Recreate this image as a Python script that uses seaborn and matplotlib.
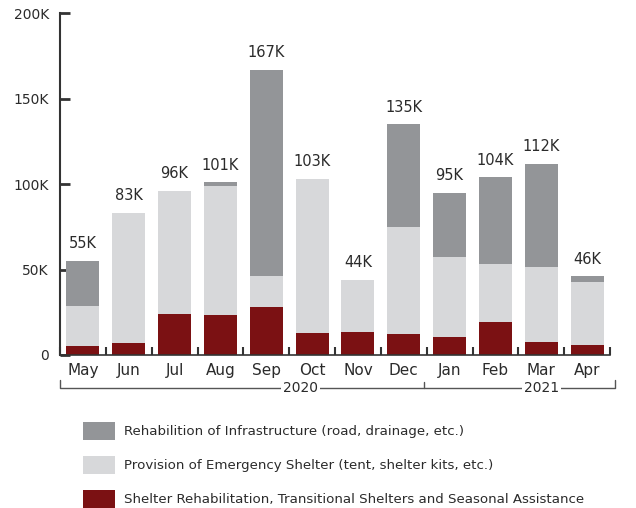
import matplotlib
matplotlib.use("Agg")
import matplotlib.pyplot as plt
import matplotlib.transforms as mtransforms
from matplotlib.patches import Rectangle
import seaborn as sns
import pandas as pd

# data (thousands)
months = ['May', 'Jun', 'Jul', 'Aug', 'Sep', 'Oct', 'Nov', 'Dec', 'Jan', 'Feb', 'Mar', 'Apr']
shelter_rehab = [5.5, 7, 24, 23.5, 28, 13, 13.5, 12.3, 10.5, 19.3, 7.6, 6]
emergency = [23.2, 76, 72, 75.5, 18, 90, 30.5, 62.7, 47, 34, 43.9, 37]
infrastructure = [26.3, 0, 0, 2, 121, 0, 0, 60, 37.5, 50.7, 60.5, 3]
total_labels = ['55K', '83K', '96K', '101K', '167K', '103K', '44K', '135K', '95K', '104K', '112K', '46K']
years = ['2020', '2021']

series_names = ['Rehabilition of Infrastructure (road, drainage, etc.)',
                'Provision of Emergency Shelter (tent, shelter kits, etc.)',
                'Shelter Rehabilitation, Transitional Shelters and Seasonal Assistance']
colors = ['#939598', '#d7d8da', '#7b1113']

df = pd.DataFrame({'month': months, 'dark': shelter_rehab,
                   'light': emergency, 'grey': infrastructure})
df['mid'] = df['dark'] + df['light']
df['top'] = df['mid'] + df['grey']

sns.set_style('white')
plt.rcParams['font.family'] = ['DejaVu Sans']
txt = '#2b2b2b'
axc = '#333333'

W, H = 636, 508
fig = plt.figure(figsize=(W / 100, H / 100), dpi=100)
ax = fig.add_axes([60 / W, 153 / H, 550 / W, 341.7 / H])

# stacked bars drawn as cumulative layers
for col, c in zip(['top', 'mid', 'dark'], colors):
    sns.barplot(data=df, x='month', y=col, color=c, width=0.72,
                saturation=1, linewidth=0, edgecolor='none', ax=ax, zorder=2)

for i, (v, lab) in enumerate(zip(df['top'], total_labels)):
    ax.annotate(lab, (i, v), xytext=(0, 7), textcoords='offset points',
                ha='center', va='bottom', fontsize=10.5, color=txt)

ax.set_xlim(-0.5, 11.5)
ax.set_ylim(0, 200)
ax.set_xlabel('')
ax.set_ylabel('')
ax.set_yticks([0, 50, 100, 150, 200])
ax.set_yticklabels(['0', '50K', '100K', '150K', '200K'], fontsize=10, color=txt)
ax.tick_params(axis='y', direction='in', length=7, width=2, color=axc, pad=8, left=True)
ax.set_xticks(range(len(months)))
ax.set_xticklabels(months, fontsize=11, color=txt)
ax.tick_params(axis='x', which='major', length=0, pad=6)
ax.set_xticks([i - 0.5 for i in range(len(months) + 1)], minor=True)
ax.tick_params(axis='x', which='minor', direction='in', length=6, width=1.5,
               color=axc, bottom=True)

sns.despine(ax=ax, top=True, right=True)
ax.spines['left'].set_color(axc)
ax.spines['left'].set_linewidth(1.5)
ax.spines['bottom'].set_color(axc)
ax.spines['bottom'].set_linewidth(1.2)

# year brackets under the month labels
tr = mtransforms.blended_transform_factory(ax.transData, ax.transAxes)
yb = -0.0966
ax.plot([-0.5, -0.5, 11.6, 11.6], [-0.073, yb, yb, -0.073], transform=tr,
        color='#555555', lw=1, clip_on=False)
ax.plot([7.45, 7.45], [yb, -0.079], transform=tr, color='#555555', lw=1, clip_on=False)
for x, yr in zip([4.74, 10.0], years):
    ax.text(x, yb, yr, transform=tr, ha='center', va='center', fontsize=10,
            color=txt, bbox=dict(facecolor='white', edgecolor='none', pad=1.5))

# legend: swatches and labels placed in figure pixels
for k, (name, c) in enumerate(zip(series_names, colors)):
    yc = 431 + 34 * k
    fig.patches.append(Rectangle((83 / W, 1 - (yc + 9) / H), 32 / W, 18 / H,
                                 transform=fig.transFigure, facecolor=c, edgecolor='none'))
    fig.text(124 / W, 1 - yc / H, name, ha='left', va='center', fontsize=9.6, color=txt)

fig.savefig('out.png', dpi=100)
